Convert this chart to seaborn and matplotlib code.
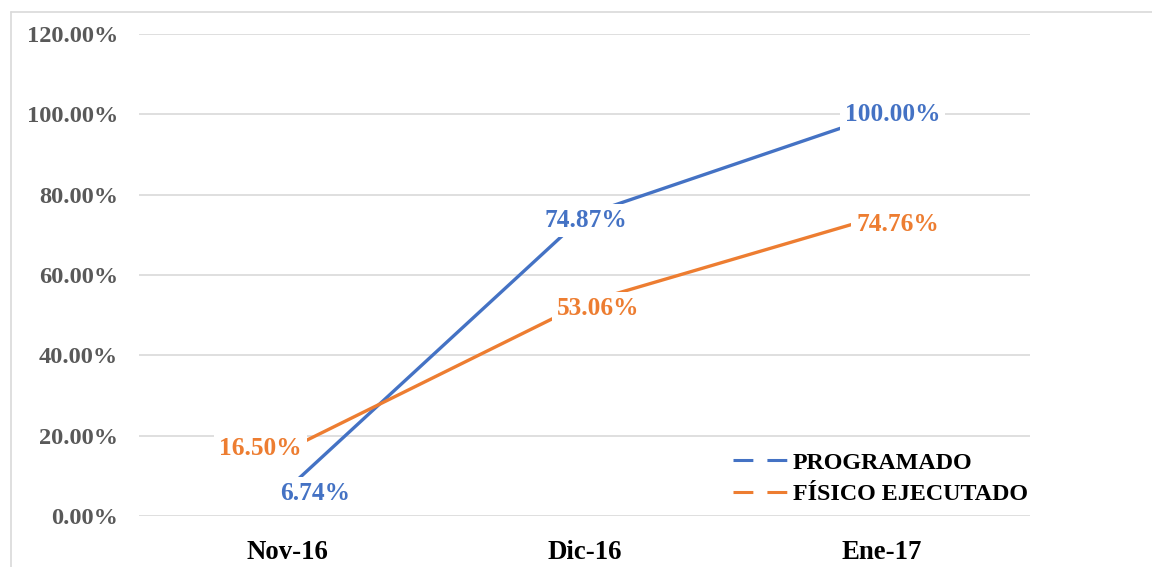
import matplotlib
matplotlib.use("Agg")
import matplotlib.pyplot as plt
import seaborn as sns
import pandas as pd
from matplotlib.lines import Line2D

categories = ["Nov-16", "Dic-16", "Ene-17"]
programado = [6.74, 74.87, 100.00]
fisico = [16.50, 53.06, 74.76]
series_names = ["PROGRAMADO", "FÍSICO EJECUTADO"]
yticks = [0, 20, 40, 60, 80, 100, 120]

colors = {"PROGRAMADO": "#4472C4", "FÍSICO EJECUTADO": "#ED7D31"}

df = pd.DataFrame({
    "mes": categories * 2,
    "valor": programado + fisico,
    "serie": [series_names[0]] * 3 + [series_names[1]] * 3,
})

sns.set_theme(style="white")
plt.rcParams["font.family"] = ["Liberation Serif", "DejaVu Serif"]

W, H = 1152, 567
fig = plt.figure(figsize=(W / 100, H / 100), dpi=100)
ax = fig.add_axes([139 / W, 1 - 516 / H, (1030 - 139) / W, (516 - 34) / H])

sns.lineplot(data=df, x="mes", y="valor", hue="serie", palette=colors,
             linewidth=2.4, ax=ax, legend=False, sort=False)

ax.set_xlim(-0.5, 2.5)
ax.set_ylim(0, 120)
ax.set_yticks(yticks)
ax.set_yticklabels([f"{v:.2f}%" for v in yticks], fontsize=17.6, fontweight="bold", color="#595959")
ax.set_xticks(range(len(categories)))
ax.set_xticklabels(categories, fontsize=19.3, fontweight="bold", color="black")
ax.tick_params(axis="y", length=0, pad=15)
ax.tick_params(axis="x", length=0, pad=17)
ax.set_xlabel("")
ax.set_ylabel("")
ax.grid(axis="y", color="#D9D9D9", linewidth=1.2)
ax.set_axisbelow(True)
for s in ax.spines.values():
    s.set_visible(False)

# data labels
offsets_p = [(28, -5), (1, -5), (11, 0)]
offsets_f = [(-27, 1), (14, -6), (16, -9)]
lab_size = 18.3
for i, (v, off) in enumerate(zip(programado, offsets_p)):
    ax.annotate(f"{v:.2f}%", (i, v), xytext=off, textcoords="offset pixels",
                ha="center", va="center", fontsize=lab_size, fontweight="bold",
                color=colors["PROGRAMADO"],
                bbox=dict(boxstyle="square,pad=0.2", fc="white", ec="none"), zorder=5)
for i, (v, off) in enumerate(zip(fisico, offsets_f)):
    ax.annotate(f"{v:.2f}%", (i, v), xytext=off, textcoords="offset pixels",
                ha="center", va="center", fontsize=lab_size, fontweight="bold",
                color=colors["FÍSICO EJECUTADO"],
                bbox=dict(boxstyle="square,pad=0.2", fc="white", ec="none"), zorder=5)

# legend
handles = [Line2D([], [], color=colors[n], linewidth=2.2, linestyle=(0, (6.5, 4.6)),
                  dash_capstyle="butt")
           for n in series_names]
leg = fig.legend(handles, series_names, loc="upper left",
                 bbox_to_anchor=(733 / W, 1 - 452 / H), frameon=False,
                 prop={"family": "Liberation Serif", "weight": "bold", "size": 17.3},
                 handlelength=2.3, handletextpad=0.2, labelspacing=0.4,
                 borderpad=0, borderaxespad=0)
for t in leg.get_texts():
    t.set_color("black")

# outer chart border
fig.add_artist(Line2D([11 / W, 11 / W], [0, 1 - 12 / H], transform=fig.transFigure,
                      color="#D9D9D9", linewidth=1.2))
fig.add_artist(Line2D([11 / W, 1], [1 - 12 / H, 1 - 12 / H], transform=fig.transFigure,
                      color="#D9D9D9", linewidth=1.2))

fig.savefig("out.png", dpi=100, facecolor="white")
